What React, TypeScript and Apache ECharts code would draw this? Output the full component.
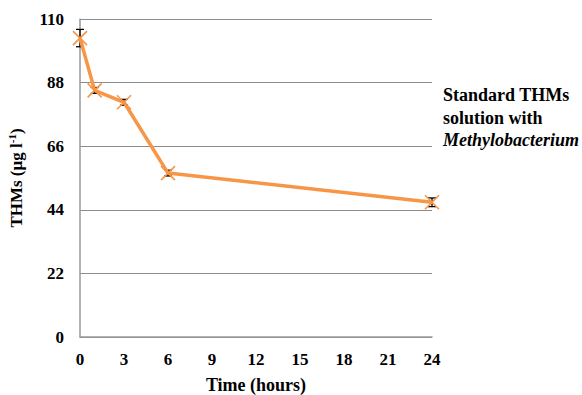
import React, { useEffect, useRef } from "react";
import * as echarts from "echarts";

// Time after dosing (hours) and THMs concentration (µg l-1)
const hours = [0, 1, 3, 6, 24];
const thms = [103.4, 85.3, 81.2, 56.7, 46.6];
const errors = [3.0, 1.0, 1.0, 1.0, 1.5];
const xTicks = [0, 3, 6, 9, 12, 15, 18, 21, 24];
const yTicks = [0, 22, 44, 66, 88, 110];

const serif = "Liberation Serif";
const orange = "#F79646";

export default function App() {
  const ref = useRef<HTMLDivElement>(null);

  useEffect(() => {
    if (!ref.current) return;
    const chart = echarts.init(ref.current, undefined, { renderer: "svg" });
    const points = hours.map((h, i) => [h, thms[i]]);
    const bars = hours.map((h, i) => [h, thms[i] - errors[i], thms[i] + errors[i]]);

    chart.setOption({
      animation: false,
      backgroundColor: "#fff",
      grid: { left: 80, right: 150, top: 19, bottom: 58, containLabel: false, outerBoundsMode: "none" },
      xAxis: {
        type: "value",
        min: xTicks[0],
        max: xTicks[xTicks.length - 1],
        interval: 3,
        name: "Time (hours)",
        nameLocation: "middle",
        nameGap: 38,
        nameTextStyle: { fontFamily: serif, fontWeight: "bold", fontSize: 18, lineHeight: 19, color: "#000" },
        axisLine: { show: true, lineStyle: { color: "#999", width: 1.5 } },
        axisTick: { show: false },
        splitLine: { show: false },
        axisLabel: { margin: 14, fontFamily: serif, fontWeight: "bold", fontSize: 17, color: "#000" },
      },
      yAxis: {
        type: "value",
        min: yTicks[0],
        max: yTicks[yTicks.length - 1],
        interval: 22,
        name: "{a|THMs (µg l}{s|-1}{a|)}",
        nameLocation: "middle",
        nameGap: 54,
        nameTextStyle: {
          rich: {
            a: { fontFamily: serif, fontWeight: "bold", fontSize: 17, color: "#000", lineHeight: 20 },
            s: { fontFamily: serif, fontWeight: "bold", fontSize: 11, color: "#000", lineHeight: 20, verticalAlign: "top" },
          },
        },
        axisLine: { show: true, lineStyle: { color: "#999", width: 1.5 } },
        axisTick: { show: false },
        splitLine: { show: true, lineStyle: { color: "#8c8c8c", width: 1.2 } },
        axisLabel: { margin: 16, fontFamily: serif, fontWeight: "bold", fontSize: 17, color: "#000" },
      },
      series: [
        {
          type: "custom",
          data: bars,
          z: 3,
          renderItem: (params: any, api: any) => {
            const x = api.value(0);
            const lo = api.coord([x, api.value(1)]);
            const hi = api.coord([x, api.value(2)]);
            const w = 4;
            const style = { stroke: "#000", lineWidth: 1.3 };
            return {
              type: "group",
              children: [
                { type: "line", shape: { x1: lo[0], y1: lo[1], x2: hi[0], y2: hi[1] }, style },
                { type: "line", shape: { x1: lo[0] - w, y1: lo[1], x2: lo[0] + w, y2: lo[1] }, style },
                { type: "line", shape: { x1: hi[0] - w, y1: hi[1], x2: hi[0] + w, y2: hi[1] }, style },
              ],
            };
          },
        },
        {
          type: "line",
          data: points,
          z: 4,
          lineStyle: { color: orange, width: 3.5 },
          symbol: "path://M0,0L10,10M10,0L0,10",
          symbolSize: 14,
          itemStyle: { color: "none", borderColor: orange, borderWidth: 1.6 },
        },
      ],
      graphic: [
        {
          type: "text",
          left: 443,
          top: 86,
          style: {
            text: "{b|Standard THMs}\n{b|solution with}\n{i|Methylobacterium}",
            rich: {
              b: { fontFamily: serif, fontWeight: "bold", fontSize: 18, lineHeight: 22.5, fill: "#000" },
              i: { fontFamily: serif, fontWeight: "bold", fontStyle: "italic", fontSize: 18, lineHeight: 22.5, fill: "#000" },
            },
          },
        },
      ],
    });
    return () => chart.dispose();
  }, []);

  return <div ref={ref} style={{ width: 582, height: 395, position: "absolute", left: 0, top: 0 }} />;
}
